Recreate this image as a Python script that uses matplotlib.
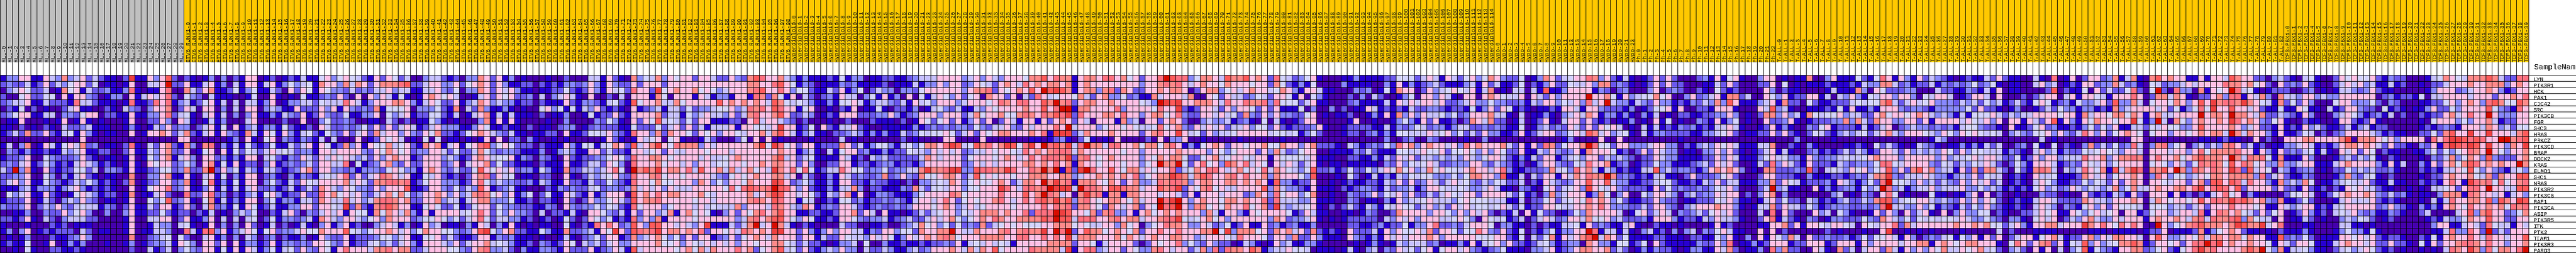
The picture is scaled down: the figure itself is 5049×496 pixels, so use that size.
import numpy as np
import matplotlib
matplotlib.use("Agg")
import matplotlib.pyplot as plt
from matplotlib.colors import ListedColormap, BoundaryNorm

plt.rcParams['font.family'] = ['Liberation Mono', 'DejaVu Sans Mono']
plt.rcParams['text.antialiased'] = False

GENES = ["LYN","PIK3R1","HCK","PAK1","CDC42","SRC","PIK3CB","FGR","SHC3","HRAS","PRKCZ","PIK3CD","BRAF","DOCK2","KRAS",
         "ELMO1","SHC1","NRAS","PIK3R2","PIK3CG","RAF1","PIK3CA","ASIP","PIK3R5","ITK","PTK2","TIAM1","PIK3R3","PARD3"]
GROUPS = ["MLL","ETV6_RUNX1","Hyperdiploid","Hypo","Ph","T-ALL","TCF3-PBX1"]
GROUP_SIZES = [30,99,115,23,23,83,40]
GROUP_COLORS = ["#C0C0C0","#FFC800","#FFC800","#FFC800","#FFC800","#FFC800","#FFC800"]
LEVEL_COLORS = ["#4500AD","#2700D1","#6B58EF","#8888FF","#C7C1FF","#D5D5FF",
                "#FFC0E5","#FF8989","#FF7080","#FF5A5A","#EF4040","#D60C00"]

# Colour level (hex digit 0..b) of every cell, one string per gene, per stretch of columns.
SEG1 = """1336611643 7346242110 2a11636920 2101303021 6
2322412624 3566250110 1600446b22 6114613041 6
0346522401 7561422311 3810116800 7426711251 3
2005622550 6166320133 0614646820 5320411100 1
2344611422 2184421110 1811286813 4125614040 4
0215020100 2461100210 4320366702 6406603040 6
2356611440 3325660221 1611336824 5104614030 3
0116000101 6016101000 1600226306 4101413000 4
1102010210 4223411100 1310143623 3024615061 3
1242722621 4516310110 0601667624 7214616321 7
0000000000 0006000000 0000000006 6000000130 6
1403701641 5647230110 2810426721 7307803141 5
0321311211 4346112200 2611436722 6015606152 5
1223600532 2236210110 1601536714 6306623131 6
2324612531 2146431210 1610656623 5306715161 2
42b3710621 2255240332 1611235523 7227b26351 4
2233600530 3146210110 0700336711 6104615031 6
2463611532 1243531210 2701236623 7105813151 6
1113413331 3463121210 0601566823 6113614141 4
0534611621 0156431220 1701146200 8226823021 3
1222601420 3436320110 1600535923 6105714131 6
3223602436 3245441320 2611426612 6204723151 6
0011300322 6356300300 3611225212 2021401034 3
2212610420 3444220000 1600446602 6113604040 4
1000100021 2011100000 1600143304 5101603030 6
1303601212 2204201100 1601144300 8418936134 6
0101300021 1236300000 0700234505 2004613030 4
1211500160 1313000100 1301233416 5306626061 3
0010510022 1121000000 0200412403 5326615161 6"""

SEG2 = """6012012141 1563565421 6265240034 4212033762 613
6146135345 1766374762 6777892246 6336256762 631
5114206265 1653324232 4463441144 6325033762 646
5006101051 1232620606 3641510167 6564001462 656
4136013344 2544486413 6667763146 5226134763 433
6034311622 2636163232 7155560333 5217042731 131
6113143261 2632251133 6053461225 5214014671 414
6000020060 0352232001 1042020115 3101000371 616
4133152112 0642232352 6262464124 6333113651 121
4165163145 2153262462 7466363265 7221256764 324
1056032132 1404000601 2656401050 5011010160 602
2125114246 1651273616 5574562176 7146156893 565
4246454233 1664666632 6576562336 6425224753 233
6045213264 2646564342 6367661266 6343126764 556
2036123234 2664480512 3673262266 6236046672 522
3144212367 2663323133 3256533167 6324225965 646
6023103132 1454682624 6876461154 6212026782 645
6035214265 4666674642 7788781256 6333126853 433
6223124124 2764365332 6366691126 6325243961 234
4156312262 2867564632 4675752366 7636347875 636
6035133144 2764484634 7887672266 7344146773 335
5124113366 26654a2721 7897661156 5225125662 533
5002146203 2464616551 7576473161 6666456862 536
5025133234 1764366435 6376662355 6535246852 443
2014020141 0361361200 3464130163 4011031640 316
5156233465 5766695435 6676463576 65532369a5 367
3023021130 1632261222 3553461155 6242112661 323
3126133232 6653261224 5342463166 6436246674 543
4135145263 2651686664 7786772246 6655326783 342"""

SEG3 = """0100010020 0044162107 3547365662 6642263279 866
1220212133 2363163226 2666266666 6666666677 668
3110112252 1263164528 662a567667 5653466678 966
2230403464 1060020406 6617506661 6413316618 727
1220211162 1332145219 5667447566 6669676767 649
0100563515 1436212106 1234144252 3345563487 869
1110201130 0151226216 6667244153 4644362478 667
1000010030 0003253106 2659454252 6611122068 466
1020110233 0123222115 2225246262 4144461665 546
1101122061 1255463218 6637276652 6563665466 747
2031001010 0000162101 6456056100 1420002506 060
2220211163 1551457629 467a658777 3646666667 a5a
2111301343 1166242216 6456264466 6566646666 666
1320321062 1223356528 6677656666 4644567666 667
1110211161 1244265308 6667566463 6645566566 767
2331531172 244346850b 797a677684 9667474675 64a
0110220061 0243456328 6678566566 6643256567 667
2231431162 2142253218 6657556663 7635366576 66a
1100021323 2245233237 4646364446 6666585898 78b
1350251164 2161366609 6768677666 7546666674 67a
1120221062 0263356429 6778666665 6646666678 769
2221132063 2335354218 5666356664 6454447366 648
3320402214 1066532416 2663471675 6510362657 867
3120120152 0265351218 3637166665 6666663478 679
1010110051 0218686239 6399664643 6a1114247b 46b
2211531172 234165a629 878a677676 8266564876 76a
1110100141 0235266127 3467535262 6612362567 647
1120321265 0434246336 6667556365 4646463665 667
0311332162 2261236419 4666665675 7476668672 567"""

SEG4 = """7431311121 5133011221 1234446666 3463643666 577
9651320111 3231111201 1141336366 2365426764 867
8635521142 6135024330 3325666666 3677826567 696
5160420231 6440351613 0605146536 2560766260 428
7545431131 5564134432 4164536663 4666568768 866
8661560010 2160115102 2130145324 1143656666 766
9622430121 6662223363 1236663666 2475667557 876
4320200010 0200021110 2016525626 1362602641 661
a661250621 4462100111 1131232323 3253244632 646
9641341102 2343131311 4235455652 4626567766 676
1000010000 4010000000 2010000660 0006000000 011
8562661222 7624135531 45357768a9 4597867a95 8a6
7661341041 5662311312 2544364646 2344656654 867
9462451111 6412043422 2224764666 2566656764 686
7662630022 6612212331 2213666666 2364646666 776
7685851244 8655233523 3447a778aa 3398877a86 687
7460420131 6423223723 6327556776 2495656656 677
9623531131 6622132211 0203345476 3565567624 776
9863621131 4473022111 3274255466 355666a864 887
9664652143 6716013321 1135666687 5666668666 967
8661540121 5523122323 2146646862 5656678646 868
7643761232 6642123223 2366656763 4645666656 666
9661122112 6672640611 0124245663 5467776766 828
9653651121 6653233412 3422464675 3567687667 777
7410210000 4220011200 2347563525 2327245656 555
a662631363 6644132663 55276677b6 4476667867 877
6662661422 6544364651 3646767875 6667777668 866
7542422101 3340500311 2112122326 1454645416 666
9452621343 6330422431 1342366676 4747695666 687"""

SEG5 = """9687716776 8867562668 b988357764 9779676285 423
6776716766 6666663667 8786467665 7666566275 213
b9a9716773 7827622667 6776026773 5646766457 631
6456657426 7335231174 6664700652 6442354266 516
97b7826776 676666543b a9a6677764 8668778385 552
968bb17766 6683666658 66a2126642 6366526261 115
8798a28666 7768663677 5683226646 4527326363 322
6267626406 6617340662 6762003433 4123105041 012
6686b46663 5665654458 5673264646 2446355262 122
81aaa24766 6766662678 66a6452634 4566666455 451
0123102510 1060000206 0336001000 0010000001 000
b897a48b77 4886675775 7861315676 2665667557 663
6788847666 6665663666 6676666365 3566626374 235
8887a27865 6766663657 6775225674 5665466165 555
7686717665 666566356b 77b5268563 9768465064 642
b7b192ab86 6965774656 6824576886 4675658476 543
7667734667 6767683567 7a97479866 7868667376 665
b7a7817776 5762673348 7887367766 7767676193 312
8baaa4b887 6998774669 78a2657856 4466669374 332
b874607a78 1771776664 6642616664 6662376385 663
97a7937865 677657466b 8ab6367665 7767668284 443
8687827765 276467265b 89b6377565 76685672a4 344
88ba966572 7833616756 7676663741 6631656666 512
98b9948886 6786774667 88a5456756 3666666376 233
6677756544 6637560356 8776336423 5126116231 231
a6b8b26977 5676572668 66866677b5 a377756276 746
8686a47776 6675764676 6776634666 5486665266 372
6777726651 4666620265 6683532632 2014310163 411
7774a16883 4662653378 6466247382 8776971344 655"""

SEG6 = """5610001131 1112255524 6416425635 7632250137 624
1500003111 1003161312 3421113416 2411250213 622
6641100032 3015176602 6345654614 7010440419 113
0531000203 0420013506 6364106606 7654460642 636
4611000231 1114164646 6462234633 5332231436 635
0300302011 6412121422 3321221513 6265121011 216
5601011200 1316173636 4453523666 7441040113 103
6600000160 0100135316 2611202764 7220140126 104
2361001222 2114132354 2331344223 2321150134 232
3520001220 2313155444 6456352426 3311261246 623
0000000000 0003002300 3200001003 0000000000 001
6722210431 2325386736 7664638676 6674261628 725
6600111132 4211155446 5562556536 3652261143 632
4611100221 1314264624 4343436435 6642131426 613
4610110111 1103263545 6422333663 2432120136 632
5922312522 5346575634 7565546766 4683112223 745
3900010520 1413143545 5333535776 6391140426 616
2600101211 2214362623 6424645324 3542240216 432
1611102123 3214233413 6654454334 6411032105 624
5700100322 3625463622 4246546626 6664251203 734
3611100320 1103163445 6444356555 4441140225 624
5610202421 4315465524 6342646455 4564251226 654
6411001101 3200276666 3665363646 2021406152 201
4610101222 2204364636 6644565306 5451240246 423
1300000221 1231225133 6822324666 5033110202 114
2721210622 2416365564 7266525586 3262150213 513
2631110632 1316464666 7636666655 5662150425 716
3310000010 1310143444 2301131614 5636221245 312
4011101410 3403264525 6156646321 2351110334 612"""

SEG7 = """5668736214 1012626200 0231615610 0366010117 003
5446377232 1012626220 0011426200 0226050101 112
6666132023 0003602320 0210521200 0063021100 001
666b667516 3455756003 6234617724 0065361226 614
463846b433 1432633121 3243739611 1346172205 211
6416632221 3012556160 0221666100 0649341001 112
4647613313 1031401022 1122336301 0277363417 545
6626212011 3010615010 0321613501 0062236101 222
6426265640 1041412132 3121446410 0126131003 256
5649746345 1041332222 1133456201 1226262102 542
3000060060 0000000010 0000000000 0000000300 000
667b855266 3334663302 1343656411 1447002103 100
3617666512 0262643301 1033636210 1246141002 312
4536624343 2022643311 1122636411 1356453316 323
2548667123 0122533111 2342646200 1428364216 222
3867414312 1144934233 2136767630 1077222329 204
476877b723 2121441102 6222356200 0266222103 111
3669669433 1122455211 2143624411 1337265412 223
563a654632 2221625232 2323546300 024b341100 613
6661375036 0053664303 4233646602 0367030000 000
5658676352 1122632201 1222546311 0146252204 312
4667686333 2242663203 4666766310 1447264425 312
2537666640 1562464032 3425646200 0408062000 634
6647556342 2231666312 2143644310 0268142103 201
4516232114 6100211010 0001612000 0116672616 654
366b814414 1034120303 4032564110 0606020000 002
4679b47625 1111221110 2211536103 0616537406 223
3307633155 1250621111 1322638011 3126661226 661
3677667242 0131322101 3311647201 1308372200 641"""

SEG8 = """6111521586 1631624321 0121142621 1004108016 026
1112143377 4231224132 3235235101 1004634012 166
4111730652 2233000422 1132141601 1000029021 150
0436315466 3663054664 0126640600 0202466046 166
2224545579 4246456333 2434253412 4215651231 533
1516113166 6323321333 3352622101 3001242533 133
5634422675 6656764343 1415556424 3446666566 174
3373742766 3366261666 6465463606 6164269163 165
1222141246 0234332323 1455322106 1125623112 135
1343452467 4366654365 3656545403 4325563632 486
1000000000 0000001430 0000000000 0000401000 000
0011210524 2101432101 1313142400 2305105021 037
1242431266 4263434365 2635544413 2104634132 254
3454456766 6366666363 4456466422 5126366344 486
1432333588 5466663254 2435464202 5316664123 265
5436563569 3627967344 1627277420 5217874043 486
221232477a 3244464331 3436254401 2106445111 276
164313528b 5543634243 2636462401 2104653112 253
12331534b8 3413446344 4633534312 1215634236 435
3401032068 5010005110 1136060200 1000322010 062
1342243799 3455664343 2636365201 2114664222 276
333223238b 4433635132 1425363211 2104643032 156
0531001626 3062461060 3633550210 0224656116 535
3322253276 4352545455 4643353203 3105646024 367
6654065466 8274666666 7667675524 6316677466 6a7
010001006a 0010101000 0100000402 0001111000 001
2231252556 4163023245 1536162602 4661567412 267
2666163666 6466771676 5677666105 8626782615 493
0724046627 4163636574 4656745203 4206160403 591"""

SEG9 = """6237147107 9676611616 6497662203 4210451002 656556
2337423105 4233464666 6877675620 6232621002 464634
6242258205 b208330716 56b8451012 2200230101 443236
5416668602 7747610226 7388164730 7443663433 666666
4629337405 665763696a 7887a76541 7252630005 663335
1217346666 462513585a 6696646211 5116511041 266322
6657757616 7446666b67 76b7764722 4321630003 465312
766566a513 b407536766 76a8676325 6100211001 662126
2536114425 4655336966 6676346221 6121634211 241341
3625676505 6636656767 74b7476631 6112540202 366664
0000006600 0000000110 1211006020 0666776666 7a0777
2425238403 7835603424 3786241201 1334641213 677676
5654366406 6646636857 7778661631 6232451410 646265
6736778706 8667567977 76b7487851 7111630001 342435
4635666605 6536425878 7596875633 7334661114 676666
571947a807 796b738768 76a8294650 4312330102 253434
4625667603 8635534657 7677773824 6211320001 373245
5426267606 6546626729 9698486631 7343750113 454462
4347357446 7667768a68 9869266662 6221621202 165644
1214316206 6616120214 6856031000 0255640125 676676
4436667604 7656656968 87a8976732 7112520001 464446
3626555405 5534424626 6686665611 6434661214 566666
6456066125 6634664816 8767542625 6012631204 546323
4336466616 7667647848 7789375440 6011420100 343542
6865868600 b635678977 767a977a46 8000110000 441101
1101111012 2601112713 5676211010 2111310001 353315
3647766406 9633465747 7677576611 9232520111 665646
6345779712 66562688b8 a676676651 6426651114 676646
5321667723 5621568a78 6666797b53 7144531102 453465"""

SEG10 = """2132200014 5765477797 42288
1141200102 2466676677 73676
2110000013 6662346676 31266
0231221504 4666646662 66768
2032000112 2563676389 75597
0512101136 2253666695 32186
3140200212 26746866b6 33366
1000000105 6663536674 12266
2200000121 2321666476 34255
3121100225 27966a66a6 66479
6563666608 68aa989866 bb789
4262210326 18a98a96a6 6376a
0211001135 25356876b6 53667
1021000103 2473576393 22267
3161400316 2675798676 766b7
2231000212 1446595363 21453
1020000102 2676675472 76699
1141100212 16861a8785 85678
2110010104 45626886b6 64499
3242310110 3777187664 61463
2121000104 1486677693 976a9
2363210313 1676586676 75878
1132100240 0004693796 62357
0120000012 1433576696 62266
0000000003 6611464285 44164
1000000001 14833862b2 42666
2122100215 1676686486 64669
2262210516 2667887686 63667
2120100101 04876a7385 7768b"""

SEGMENTS = [(SEG1,41),(SEG2,43),(SEG3,43),(SEG4,43),(SEG5,43),(SEG6,43),(SEG7,43),(SEG8,43),(SEG9,46),(SEG10,25)]

rows = [""] * len(GENES)
for seg, width in SEGMENTS:
    for j, line in enumerate(seg.split("\n")):
        s = line.replace(" ", "")
        if len(s) != width:
            print("length mismatch", width, j, len(s))
        rows[j] += s[:width].ljust(width, s[-1])
matrix = np.array([[int(c, 16) for c in r] for r in rows])
n_rows, n_cols = matrix.shape

sample_labels = [f"{g}-{i}" for g, n in zip(GROUPS, GROUP_SIZES) for i in range(n)]
sample_group = np.repeat(np.arange(len(GROUPS)), GROUP_SIZES)

W, H = 5049, 496
CELL = 12.0
TOP = 147
HEAD_H = 122
fig = plt.figure(figsize=(W/100, H/100), dpi=100, facecolor="white")
ax = fig.add_axes([0, 0, 1, 1])
ax.set_xlim(0, W/CELL)
ax.set_ylim((H-TOP)/CELL, -TOP/CELL)
ax.axis("off")

cmap = ListedColormap(LEVEL_COLORS)
norm = BoundaryNorm(np.arange(-0.5, len(LEVEL_COLORS)), cmap.N)
ax.pcolormesh(np.arange(n_cols+1), np.arange(n_rows+1), matrix, cmap=cmap, norm=norm,
              antialiased=False, linewidth=0)

# coloured class bar above the heat map
head_top = -TOP/CELL
head_bot = (HEAD_H-TOP)/CELL
head_cmap = ListedColormap(GROUP_COLORS)
ax.pcolormesh(np.arange(n_cols+1), [head_top, head_bot], sample_group[None, :], cmap=head_cmap,
              vmin=-0.5, vmax=len(GROUPS)-0.5, antialiased=False, linewidth=0)

lw = 0.72
ax.vlines(np.arange(n_cols+1), head_top, n_rows, colors="black", linewidth=lw, antialiased=False, zorder=3)
ax.hlines(np.arange(n_rows+1), 0, W/CELL, colors="black", linewidth=lw, antialiased=False, zorder=3)

for i, lab in enumerate(sample_labels):
    ax.text(i+0.95, head_bot-0.08, lab, rotation=90, rotation_mode="anchor", ha="left", va="baseline",
            fontsize=8, color="#111111", zorder=4, clip_on=True)

lx = n_cols + 0.83
for j, g in enumerate(GENES):
    ax.text(lx, j+1, g, ha="left", va="baseline", fontsize=8, color="black", zorder=2, clip_on=True)
ax.text(n_cols+0.92, -0.92, "SampleName", ha="left", va="baseline", fontsize=10.8, color="black", clip_on=True)

fig.savefig("out.png", dpi=100, facecolor="white")
